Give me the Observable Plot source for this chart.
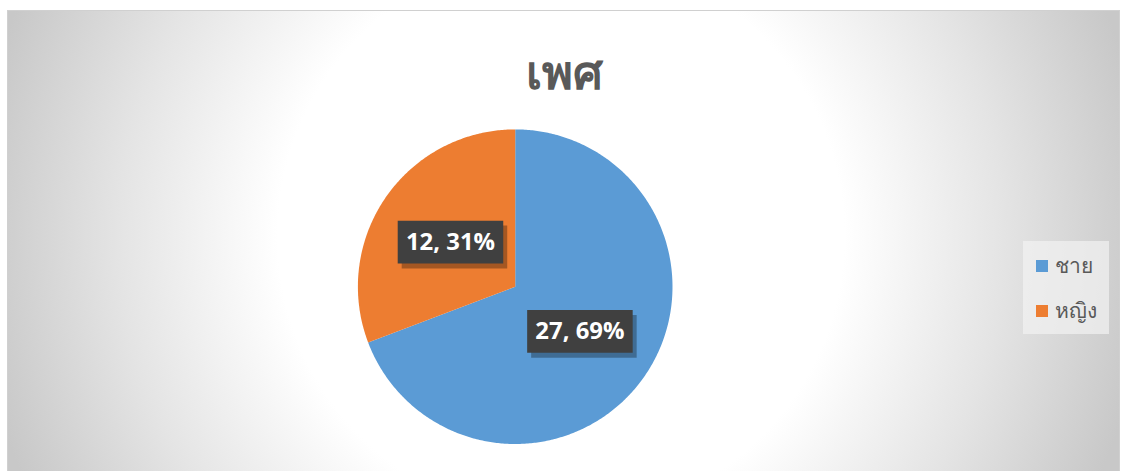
<!DOCTYPE html>
<html>
<head>
<meta charset="utf-8">
<script src="https://cdn.jsdelivr.net/npm/d3@7"></script>
<script src="https://cdn.jsdelivr.net/npm/@observablehq/plot@0.6"></script>
<style>
  html, body { margin: 0; padding: 0; background: #fff; }
  #wrap {
    position: absolute; left: 7px; top: 10px; width: 1113px; height: 470px;
    box-sizing: border-box; border: 1px solid #d0d0d0;
    background: radial-gradient(circle 590px at 553px 225px, #ffffff 0%, #ffffff 48%, #e4e4e4 75%, #c8c8c8 100%);
    font-family: "Noto Sans", "Open Sans", sans-serif;
    overflow: hidden;
  }
  #title {
    position: absolute; left: 0; top: 24px; width: 1112px; text-align: center;
    font-size: 47px; font-weight: bold; color: #595959;
  }
  #chart { position: absolute; left: -7px; top: 100px; }
  #legend {
    position: absolute; left: 1015px; top: 230px; width: 86px; height: 93px;
    background: rgba(242,242,242,0.7);
    color: #595959; font-size: 21px;
  }
  .item { position: absolute; left: 13px; display: flex; align-items: center; }
  .sw { width: 12px; height: 12px; margin-right: 7px; }
</style>
</head>
<body>
<div id="wrap">
  <div id="title"></div>
  <div id="chart"></div>
  <div id="legend"></div>
</div>
<script>
const title = "เพศ";
const categories = ["ชาย", "หญิง"];
const values = [27, 12];
const colors = ["#5B9BD5", "#ED7D31"];

document.getElementById("title").textContent = title;

// legend
const legend = document.getElementById("legend");
categories.forEach((c, i) => {
  const it = document.createElement("div");
  it.className = "item";
  it.style.top = (8 + i * 45) + "px";
  it.innerHTML = `<div class="sw" style="background:${colors[i]}"></div><span>${c}</span>`;
  legend.appendChild(it);
});

// pie geometry from data (clockwise from 12 o'clock, like Excel)
const total = d3.sum(values);
const pie = d3.pie().sort(null).value(d => d.value)(categories.map((c, i) => ({cat: c, value: values[i]})));
const polys = [];
pie.forEach(s => {
  const n = Math.max(2, Math.ceil((s.endAngle - s.startAngle) / 0.01));
  polys.push({cat: s.data.cat, x: 0, y: 0});
  for (let k = 0; k <= n; k++) {
    const a = s.startAngle + (s.endAngle - s.startAngle) * k / n;
    polys.push({cat: s.data.cat, x: Math.sin(a), y: Math.cos(a)});
  }
  polys.push({cat: s.data.cat, x: 0, y: 0});
});
const labels = pie.map(s => {
  const m = (s.startAngle + s.endAngle) / 2;
  return {cat: s.data.cat, x: 0.5 * Math.sin(m), y: 0.5 * Math.cos(m),
          text: `${s.data.value}, ${Math.round(s.data.value / total * 100)}%`};
});

const boxSymbol = { draw(ctx, size) { ctx.rect(-53, -21.5, 106, 43); } };

const cx = 516, cy = 176, R = 158;
const plot = Plot.plot({
  width: 1123, height: 371,
  margin: 0,
  x: {domain: [-1, 1], range: [cx - R, cx + R], axis: null},
  y: {domain: [-1, 1], range: [cy + R, cy - R], axis: null},
  color: {domain: categories, range: colors},
  style: {background: "transparent", overflow: "visible"},
  marks: [
    Plot.line(polys, {x: "x", y: "y", z: "cat", fill: "cat", stroke: "white", strokeWidth: 0, curve: "linear"}),
    Plot.dot(labels, {x: "x", y: "y", symbol: boxSymbol, fill: "#000", fillOpacity: 0.3, stroke: "none", dx: 4, dy: 5}),
    Plot.dot(labels, {x: "x", y: "y", symbol: boxSymbol, fill: "#404040", stroke: "none"}),
    Plot.text(labels, {x: "x", y: "y", text: "text", fill: "white", fontSize: 24, fontWeight: "bold", fontFamily: "'Open Sans', 'Noto Sans', sans-serif"})
  ]
});
document.getElementById("chart").appendChild(plot);

// shadow blur + dotted texture on label boxes
const svg = d3.select(plot);
const defs = svg.insert("defs", ":first-child");
defs.append("filter").attr("id", "blur").append("feGaussianBlur").attr("stdDeviation", 3);
const pat = defs.append("pattern").attr("id", "dots").attr("width", 8).attr("height", 8).attr("patternUnits", "userSpaceOnUse");
pat.append("rect").attr("width", 8).attr("height", 8).attr("fill", "#404040");
pat.append("circle").attr("cx", 4).attr("cy", 4).attr("r", 1.2).attr("fill", "#555");
svg.selectAll("path").filter(function() { return this.getAttribute("fill") === "#000"; }).attr("filter", "url(#blur)");
svg.selectAll("path").filter(function() { return this.getAttribute("fill") === "#404040"; }).attr("fill", "url(#dots)");
</script>
</body>
</html>
